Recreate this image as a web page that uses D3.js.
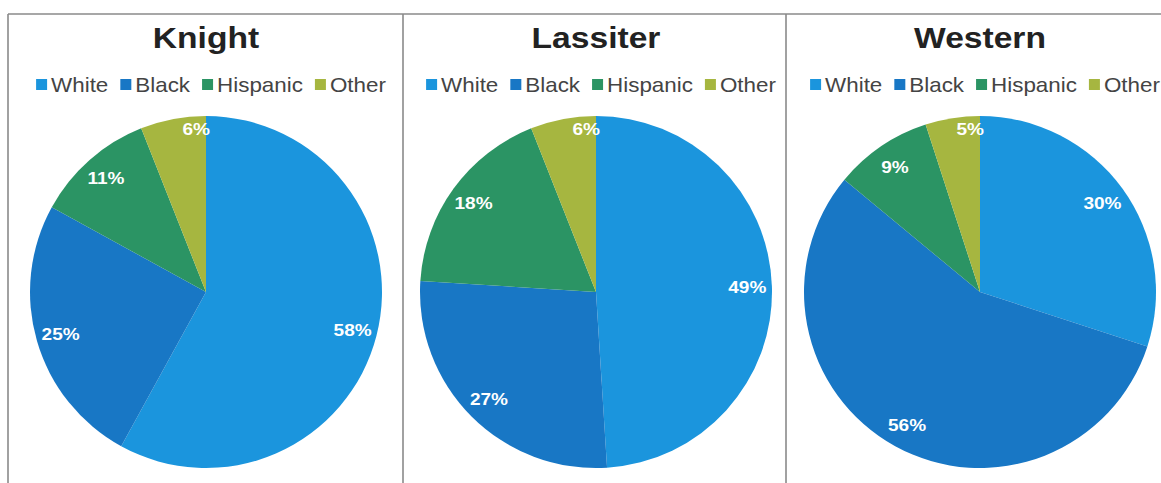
<!DOCTYPE html>
<html>
<head>
<meta charset="utf-8">
<script src="https://cdn.jsdelivr.net/npm/d3@7"></script>
<style>
  body { margin: 0; background: #fff; }
  svg { display: block; font-family: "Liberation Sans", Arial, sans-serif; }
</style>
</head>
<body>
<div class="chart"></div>
<script>
var schools = ["Knight", "Lassiter", "Western"];
var groups = ["White", "Black", "Hispanic", "Other"];
var knight = [58, 25, 11, 6];
var lassiter = [49, 27, 18, 6];
var western = [30, 56, 9, 5];
var colors = ["#1b95dd", "#1877c5", "#2b9464", "#a6b640"];

var width = 1161,
    height = 483;

// panel layout
var panelX = [8, 403, 786, 1161],
    centerX = [206, 596, 980],
    centerY = 292,
    radius = 176,
    stretch = 1.12;

var svg = d3.select(".chart").append("svg")
    .attr("width", width)
    .attr("height", height);

// frame lines
var frame = svg.append("g")
    .attr("stroke", "#8a8a8a")
    .attr("stroke-width", 1.6)
    .attr("fill", "none");
frame.append("line").attr("x1", panelX[0]).attr("x2", width).attr("y1", 14).attr("y2", 14);
panelX.slice(0, 3).forEach(function (x) {
    frame.append("line").attr("x1", x).attr("x2", x).attr("y1", 14).attr("y2", height);
});

var pie = d3.pie().sort(null).value(function (d) { return d; });
var arc = d3.arc().innerRadius(0).outerRadius(radius);

[knight, lassiter, western].forEach(function (vals, k) {
    var g = svg.append("g")
        .attr("transform", "translate(" + centerX[k] + "," + centerY + ")");

    // title
    g.append("text")
        .attr("transform", "translate(0," + (48 - centerY) + ") scale(" + stretch + ",1)")
        .attr("text-anchor", "middle")
        .attr("font-size", 30)
        .attr("font-weight", "bold")
        .attr("fill", "#222")
        .text(schools[k]);

    // legend
    var leg = g.append("g");
    var x = 0;
    groups.forEach(function (name, i) {
        var item = leg.append("g").attr("transform", "translate(" + x + ",0)");
        item.append("rect")
            .attr("x", 0).attr("y", -13)
            .attr("width", 11).attr("height", 11)
            .attr("fill", colors[i]);
        var t = item.append("text")
            .attr("transform", "translate(15,0) scale(" + stretch + ",1)")
            .attr("font-size", 20)
            .attr("fill", "#444")
            .text(name);
        x += 15 + t.node().getComputedTextLength() * stretch + 12;
    });
    var lw = x - 12;
    leg.attr("transform", "translate(" + (5 - lw / 2) + "," + (92 - centerY) + ")");

    // slices
    var arcs = pie(vals);
    g.selectAll("path")
        .data(arcs)
        .enter().append("path")
        .attr("d", arc)
        .attr("fill", function (d, i) { return colors[i]; });

    // labels
    g.selectAll("text.lab")
        .data(arcs)
        .enter().append("text")
        .attr("class", "lab")
        .attr("transform", function (d) {
            var r = radius * (d.data < 7 ? 0.93 : 0.86),
                a = (d.startAngle + d.endAngle) / 2;
            if (d.data < 7) a = d.endAngle - 0.06;
            return "translate(" + (Math.sin(a) * r) + "," + (-Math.cos(a) * r + 6) + ") scale(" + stretch + ",1)";
        })
        .attr("text-anchor", "middle")
        .attr("font-size", 17)
        .attr("font-weight", "bold")
        .attr("fill", "#fff")
        .text(function (d) { return d.data + "%"; });
});
</script>
</body>
</html>
